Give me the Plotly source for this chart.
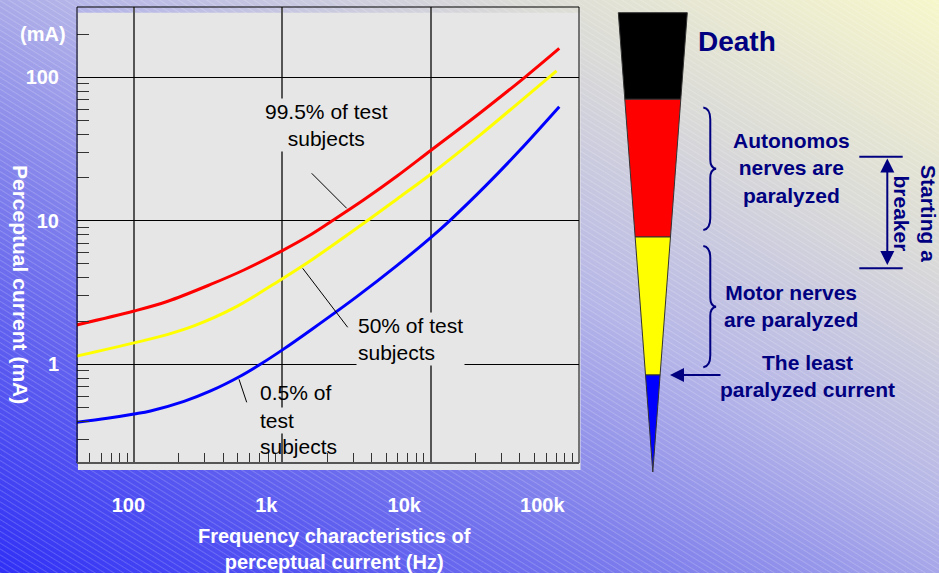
import math
import base64
import plotly.graph_objects as go

# ---------------- data ----------------
red_freq = [41, 100, 167, 328, 550, 1000, 1500, 2110, 3540, 5940, 10000, 21400, 43100, 73600]
red_curr = [1.88, 2.35, 2.74, 3.6, 4.54, 6.2, 7.83, 9.82, 14.0, 20.5, 30.9, 56.2, 100, 159]

yellow_freq = [41, 100, 167, 253, 472, 1000, 1600, 3670, 5940, 10000, 21400, 39900, 70600]
yellow_curr = [1.14, 1.41, 1.61, 1.85, 2.47, 3.95, 5.4, 9.88, 14.2, 21.1, 39.4, 67.5, 111]

blue_freq = [41, 66, 100, 129, 217, 328, 523, 710, 1000, 1600, 3160, 5940, 10000, 13400, 23800, 39900, 73600]
blue_curr = [0.394, 0.42, 0.45, 0.473, 0.552, 0.652, 0.829, 1.0, 1.26, 1.77, 2.95, 4.89, 7.64, 10.0, 17.8, 31.0, 62.4]

x_tick_vals = [100, 1000, 10000, 100000]
x_tick_text = ["100", "1k", "10k", "100k"]
y_tick_vals = [1, 10, 100]
y_tick_text = ["1", "10", "100"]
y_unit_label = "(mA)"
y_unit_at = 200

x_minor = [m * d for d in (10, 100, 1000, 10000) for m in range(2, 10) if m * d >= 50]
y_minor = [m * d for d in (0.1, 1, 10) for m in range(2, 10) if m * d > 0.25] + [200]

# ---------------- geometry helpers ----------------
FW, FH = 939, 573
PL, PR, PT, PB = 77, 579, 7, 463
PW, PH = PR - PL, PB - PT


def px(x):
    return (x - PL) / PW


def py(y):
    return (PB - y) / PH


def pt(x, y):
    return f"{px(x):.5f},{py(y):.5f}"


FONT = "Liberation Sans, Arial, sans-serif"
NAVY = "#000080"

# ---------------- background (gradient + diagonal stripes) ----------------
svg = f'''<svg xmlns="http://www.w3.org/2000/svg" width="{FW}" height="{FH}" viewBox="0 0 {FW} {FH}">
<defs>
<linearGradient id="g" gradientUnits="userSpaceOnUse" x1="0" y1="{FH}" x2="491.8" y2="-263">
<stop offset="0" stop-color="#3030f6"/>
<stop offset="0.2" stop-color="#5c5cf0"/>
<stop offset="0.36" stop-color="#8282ec"/>
<stop offset="0.55" stop-color="#b6b6e8"/>
<stop offset="0.77" stop-color="#dadad8"/>
<stop offset="1" stop-color="#f7f7cb"/>
</linearGradient>
<pattern id="p" width="5" height="5" patternUnits="userSpaceOnUse" patternTransform="rotate(32)">
<rect x="0" y="0" width="5" height="1" fill="#ffffff" fill-opacity="0.18"/>
</pattern>
</defs>
<rect width="{FW}" height="{FH}" fill="url(#g)"/>
<rect width="{FW}" height="{FH}" fill="url(#p)"/>
</svg>'''
bg_uri = "data:image/svg+xml;base64," + base64.b64encode(svg.encode()).decode()

fig = go.Figure()

for f, c, col in [(red_freq, red_curr, "#ff0000"),
                  (yellow_freq, yellow_curr, "#ffff00"),
                  (blue_freq, blue_curr, "#0000ff")]:
    fig.add_trace(go.Scatter(x=f, y=c, mode="lines",
                             line=dict(color=col, width=3, shape="spline", smoothing=1.0),
                             hoverinfo="skip", showlegend=False))

# invisible trace to carry the label axis
fig.add_trace(go.Scatter(x=[1000], y=[1], xaxis="x2", mode="markers",
                         marker=dict(opacity=0), hoverinfo="skip", showlegend=False))

shapes = []
# gray plot panel (slightly offset, as in reference)
shapes.append(dict(type="rect", xref="paper", yref="paper", x0=px(78), x1=px(580.5),
                   y0=py(470), y1=py(12.7), fillcolor="#e6e6e6", line=dict(width=0), layer="below"))
# frame
shapes.append(dict(type="rect", xref="paper", yref="paper", x0=0, x1=1, y0=0, y1=1,
                   line=dict(color="#000000", width=1), layer="above"))
shapes.append(dict(type="line", xref="paper", yref="paper", x0=0, x1=1, y0=0, y1=0,
                   line=dict(color="#555555", width=2), layer="above"))

# leader lines from the labels to the curves
for (x0, y0, x1, y1) in [(311.7, 173.3, 346.7, 208.3), (302.7, 268.3, 347.7, 327.3), (239.0, 379.3, 246.7, 402.3)]:
    shapes.append(dict(type="line", xref="paper", yref="paper",
                       x0=px(x0), y0=py(y0), x1=px(x1), y1=py(y1),
                       line=dict(color="#000000", width=1), layer="above"))

# funnel
cx, top_y, apex_y, half_top = 652.8, 12.7, 472.0, 34.5


def hw(y):
    return half_top * (apex_y - y) / (apex_y - top_y)


bands = [(12.7, 99.3, "#000000"), (99.3, 237.0, "#ff0000"), (237.0, 375.0, "#ffff00"), (375.0, 472.0, "#0000ff")]
for y0, y1, col in bands:
    path = (f"M {pt(cx - hw(y0), y0)} L {pt(cx + hw(y0), y0)} L {pt(cx + hw(y1), y1)} "
            f"L {pt(cx - hw(y1), y1)} Z")
    shapes.append(dict(type="path", xref="paper", yref="paper", path=path,
                       fillcolor=col, line=dict(color="#333333", width=1)))


def brace(x0, ytop, ybot, xt):
    ym = (ytop + ybot) / 2
    xm = x0 + (xt - x0) * 0.55
    return (f"M {pt(x0, ytop)} Q {pt(xm, ytop + 1)} {pt(xm, ytop + 12)} "
            f"L {pt(xm, ym - 9)} Q {pt(xm, ym - 1)} {pt(xt, ym)} "
            f"Q {pt(xm, ym + 1)} {pt(xm, ym + 9)} "
            f"L {pt(xm, ybot - 12)} Q {pt(xm, ybot - 1)} {pt(x0, ybot)}")


shapes.append(dict(type="path", xref="paper", yref="paper", path=brace(703.3, 107.5, 230.0, 716),
                   line=dict(color=NAVY, width=2)))
shapes.append(dict(type="path", xref="paper", yref="paper", path=brace(703.3, 246.0, 367.3, 716),
                   line=dict(color=NAVY, width=2)))
# breaker bars
for yb in (156.7, 268.3):
    shapes.append(dict(type="line", xref="paper", yref="paper", x0=px(859.3), x1=px(902.7),
                       y0=py(yb), y1=py(yb), line=dict(color=NAVY, width=2)))

annotations = []


def ann(text, x, y, size, color="#000000", bold=False, xanchor="center", align="center",
        bg=None, angle=0):
    d = dict(text=text, xref="paper", yref="paper", x=px(x), y=py(y), xanchor=xanchor,
             yanchor="middle", align=align, showarrow=False, textangle=angle,
             font=dict(family=FONT, size=size, color=color, weight="bold" if bold else "normal"))
    if bg:
        d["bgcolor"] = bg
    annotations.append(d)


ann("99.5% of test<br>subjects", 326.5, 124.5, 21, bg="#e6e6e6")
ann("50% of test<br>subjects", 356.0, 339.3, 21, xanchor="left", align="left", bg="#e6e6e6")
ann("0.5% of", 257.5, 392.7, 21, xanchor="left", align="left")
ann("test", 257.5, 420.0, 21, xanchor="left", align="left", bg="#e6e6e6")
ann("subjects", 257.5, 446.0, 21, xanchor="left", align="left")

ann("Frequency characteristics of<br>perceptual current (Hz)", 334.7, 549, 20, color="#ffffff", bold=True)
ann("Perceptual current (mA)", 21, 284, 21, color="#ffffff", bold=True, angle=90)
annotations.append(dict(text=y_unit_label, xref="paper", yref="y", x=0, y=math.log10(y_unit_at),
                        xanchor="right", yanchor="middle", xshift=-9, showarrow=False,
                        font=dict(family=FONT, size=20, color="#ffffff", weight="bold")))

ann("Death", 736.7, 41, 28, color=NAVY, bold=True)
ann("Autonomos<br>nerves are<br>paralyzed", 791.5, 168, 21, color=NAVY, bold=True)
ann("Motor nerves<br>are paralyzed", 790.5, 306, 21, color=NAVY, bold=True)
ann("The least<br>paralyzed current", 807, 375.5, 21, color=NAVY, bold=True)
ann("Starting a<br>breaker", 915, 213, 21, color=NAVY, bold=True, angle=90)

# arrows
annotations.append(dict(text="", xref="paper", yref="paper", x=px(670), y=py(375),
                        ax=52, ay=0, showarrow=True, arrowhead=2, arrowsize=1.4,
                        arrowwidth=2, arrowcolor=NAVY))
annotations.append(dict(text="", xref="paper", yref="paper", x=px(887.3), y=py(158.5),
                        ax=0, ay=108, showarrow=True, arrowhead=2, arrowsize=1.4,
                        startarrowhead=2, startarrowsize=1.4, arrowside="end+start",
                        arrowwidth=2, arrowcolor=NAVY))

fig.update_layout(
    width=FW, height=FH,
    margin=dict(l=PL, r=FW - PR, t=PT, b=FH - PB, pad=0),
    paper_bgcolor="#8080ee",
    plot_bgcolor="rgba(0,0,0,0)",
    showlegend=False,
    images=[dict(source=bg_uri, xref="paper", yref="paper", x=-PL / PW, y=1 + PT / PH,
                 sizex=FW / PW, sizey=FH / PH, xanchor="left", yanchor="top",
                 sizing="stretch", layer="below")],
    xaxis=dict(type="log", range=[1.615, 5.0], tickvals=x_tick_vals, showticklabels=False,
               ticks="", showgrid=True, gridcolor="#555555", gridwidth=1.5, zeroline=False,
               showline=False,
               minor=dict(tickmode="array", tickvals=x_minor, ticks="inside", ticklen=10,
                          tickwidth=1.2, tickcolor="#333333", showgrid=False)),
    xaxis2=dict(type="log", range=[1.628, 5.266], overlaying="x", anchor="y", side="bottom",
                tickvals=x_tick_vals, ticktext=x_tick_text, ticks="", showgrid=False,
                showline=False, zeroline=False, ticklabelstandoff=28,
                tickfont=dict(family=FONT, size=20, color="#ffffff", weight="bold")),
    yaxis=dict(type="log", range=[-0.688, 2.49], tickvals=y_tick_vals, ticktext=y_tick_text,
               ticks="", showgrid=True, gridcolor="#000000", gridwidth=1, zeroline=False,
               showline=False, mirror="ticks", ticklabelstandoff=17,
               tickfont=dict(family=FONT, size=20, color="#ffffff", weight="bold"),
               minor=dict(tickmode="array", tickvals=y_minor, ticks="inside", ticklen=12,
                          tickwidth=1.2, tickcolor="#333333", showgrid=False)),
    shapes=shapes,
    annotations=annotations,
)

fig.write_html("out.html", config={"displayModeBar": False},
               post_script="document.body.style.margin='0';document.body.style.overflow='hidden';")
